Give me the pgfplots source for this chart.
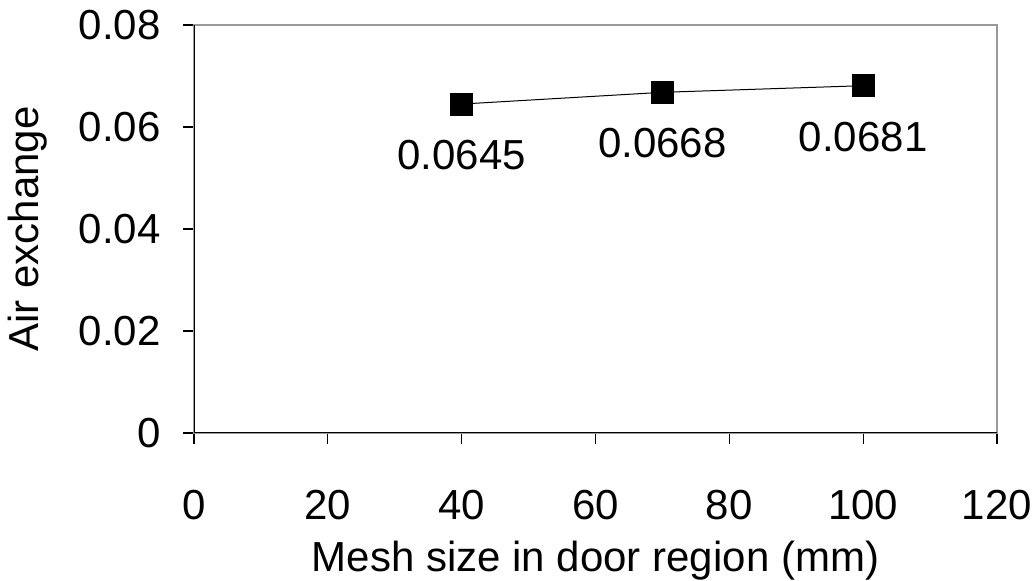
\documentclass[border=0pt]{standalone}
\usepackage{fontspec}
\setmainfont{Liberation Sans}
\usepackage{pgfplots}
\pgfplotsset{compat=1.18}
\begin{document}
\begin{tikzpicture}[font=\fontsize{21}{25.2}\selectfont]
\useasboundingbox (-97pt,-74pt) rectangle (421pt,216.5pt);
\begin{axis}[
  at={(0,0)}, anchor=south west,
  scale only axis, width=401.5pt, height=204pt,
  xmin=0, xmax=120, ymin=0, ymax=0.08,
  scaled y ticks=false, scaled x ticks=false,
  xtick={0,20,...,120}, ytick={0,0.02,0.04,0.06,0.08},
  yticklabels={0,0.02,0.04,0.06,0.08},
  xticklabels={0,20,40,60,80,100,120},
  xtick pos=bottom, ytick pos=left,
  tick align=outside, major tick length=5.5pt,
  tick style={black, line width=0.6pt},
  axis line style={gray!80, line width=0.8pt},
  xticklabel style={anchor=center, inner sep=0pt, yshift=-30.5pt},
  yticklabel style={anchor=east, inner sep=0pt, xshift=-11pt},
  xlabel={Mesh size in door region (mm)},
  ylabel={Air exchange},
  xlabel style={at={(axis description cs:0.5,0)}, anchor=center, yshift=-64pt},
  ylabel style={at={(axis description cs:0,0.5)}, anchor=center, yshift=83pt},
  nodes near coords,
  point meta=explicit symbolic,
  every node near coord/.append style={anchor=center, yshift=-25.5pt, font=\fontsize{21}{25.2}\selectfont, black},
]
\addplot[black, line width=0.5pt, mark=square*, mark size=5.5pt, mark options={solid, fill=black}]
  coordinates {(40,0.0645)[0.0645] (70,0.0668)[0.0668] (100,0.0681)[0.0681]};
\draw[black, line width=0.8pt] (rel axis cs:0,1) -- (rel axis cs:0,0) -- (rel axis cs:1,0);
\end{axis}
\end{tikzpicture}
\end{document}
